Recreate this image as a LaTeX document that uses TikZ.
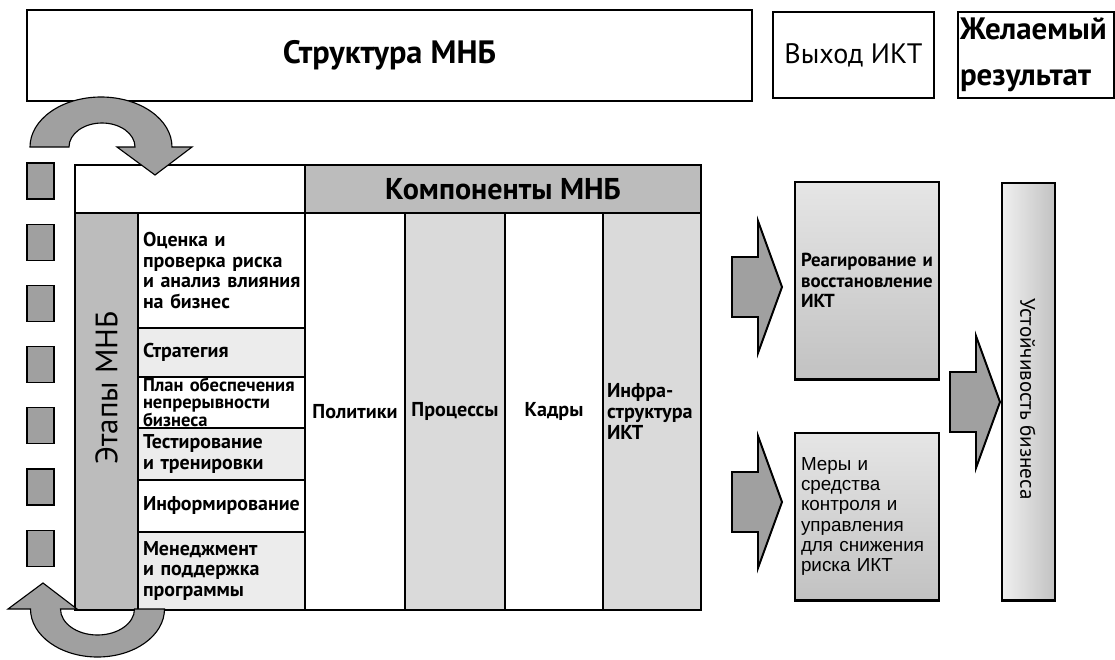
\documentclass[tikz,border=0pt]{standalone}
\usepackage{fontspec}
\setmainfont{PT Sans}
\newfontfamily\arialf{Liberation Sans}

\definecolor{hdrgray}{HTML}{BCBCBC}
\definecolor{colgray}{HTML}{DADADA}
\definecolor{rowgray}{HTML}{ECECEC}
\definecolor{arrgray}{HTML}{A0A0A0}

\tikzset{
	pics/blkarr/.style = {code={%
		\draw[blk] (0,0) -- (-0.6,1.65) -- (-0.6,0.75) -- (-1.25,0.75)
			-- (-1.25,-0.75) -- (-0.6,-0.75) -- (-0.6,-1.65) -- cycle;}}
}

\begin{document}
\begin{tikzpicture}[
		cell/.style args = {#1/#2}{%
			draw, thick, minimum width=#1cm, minimum height=#2cm, inner sep=0pt},
		stg/.style = {draw, thick, text width=3.925cm, inner xsep=1.25mm,
			inner ysep=0pt, align=left, font=\bfseries\fontsize{14.2}{14.6}\selectfont},
		rbox/.style args = {#1/#2}{%
			draw, thick, minimum width=#1cm, minimum height=#2cm,
			text width=3.3cm, inner xsep=0.15cm, align=left,
			top color=black!10, bottom color=black!24},
		sqr/.style = {draw, thick, fill=arrgray, minimum width=0.675cm,
			minimum height=0.9cm, inner sep=0pt},
		blk/.style = {draw=black, line width=1.4pt, fill=arrgray, line join=miter},
		ringarr/.style = {draw=black, thick, fill=arrgray},
		colfont/.style = {font=\bfseries\fontsize{14.3}{15}\selectfont}
                    ]
		\useasboundingbox (0,0) rectangle (27.875,-16.475);

		% top row
		\node(mnb) [cell=18.125/2.275, font=\bfseries\fontsize{23}{26}\selectfont] at (9.7375,-1.3875) {Структура МНБ};
		\node(ikt) [cell=4.025/2.15, font=\fontsize{20}{24}\selectfont] at (21.3375,-1.375) {Выход ИКТ};
		\node(res) [cell=3.9/2.15, text width=3.8cm, inner xsep=0.5mm, align=left,
			font=\bfseries\fontsize{22}{33}\selectfont] at (25.9,-1.375) {Желаемый\\результат};

		% table head
		\node(blank) [cell=5.75/1.2] at (4.75,-4.725) {};
		\node(komp) [cell=9.9/1.2, fill=hdrgray, font=\bfseries\fontsize{21.4}{24}\selectfont] at (12.575,-4.725) {Компоненты МНБ};
		\node(etap) [cell=1.575/9.925, fill=hdrgray] at (2.6625,-10.2875) {};
		\node(etaptxt) [rotate=90, font=\fontsize{22}{24}\selectfont] at (2.6625,-9.7) {Этапы МНБ};

		% stages
		\node(s1) [stg, minimum height=2.875cm] at (5.5375,-6.7625) {Оценка~и\\проверка~риска\\и~анализ~влияния\\на~бизнес};
		\node(s2) [stg, fill=rowgray, minimum height=1.225cm] at (5.5375,-8.8125) {Стратегия};
		\node(s3) [stg, minimum height=1.275cm, font=\bfseries\fontsize{13.2}{11.8}\selectfont] at (5.5375,-10.0625) {План~обеспечения\\непрерывности\\бизнеса};
		\node(s4) [stg, fill=rowgray, minimum height=1.3cm] at (5.5375,-11.35) {Тестирование\\и~тренировки};
		\node(s5) [stg, minimum height=1.3cm] at (5.5375,-12.65) {Информирование};
		\node(s6) [stg, fill=rowgray, minimum height=1.95cm] at (5.5375,-14.275) {Менеджмент\\и~поддержка\\программы};

		% components
		\node(pol) [cell=2.5/9.925, colfont] at (8.875,-10.2875) {Политики};
		\node(proc) [cell=2.5/9.925, fill=colgray, colfont] at (11.375,-10.2875) {Процессы};
		\node(kadr) [cell=2.45/9.925, colfont] at (13.85,-10.2875) {Кадры};
		\node(infra) [cell=2.45/9.925, fill=colgray, colfont, text width=2.25cm, align=left] at (16.3,-10.2875) {Инфра-\\структура\\ИКТ};

		% cycle marks
		\foreach \i in {0,...,6}
			\node(sq\i) [sqr] at (1.0125,-4.525-1.53*\i) {};

		\draw[ringarr] (0.75,-3.675) arc[start angle=180, end angle=0, x radius=1.775, y radius=1.25]
			-- (4.8,-3.675) -- (3.875,-4.375) -- (2.925,-3.675) -- (3.375,-3.675)
			arc[start angle=0, end angle=180, x radius=0.825, y radius=0.6] -- cycle;
		\draw[ringarr] (4.1125,-15.225) arc[start angle=0, end angle=-180, x radius=1.675, y radius=1.2]
			-- (0.2,-15.225) -- (1.075,-14.575) -- (1.925,-15.225) -- (1.5125,-15.225)
			arc[start angle=180, end angle=360, x radius=0.925, y radius=0.65] -- cycle;

		% outputs
		\node(rea) [rbox=3.6/4.925, font=\bfseries\fontsize{13.4}{14.5}\selectfont] at (21.675,-7.0125) {Реагирование~и\\восстановление\\ИКТ};
		\node(mery) [rbox=3.6/4.175, font=\arialf\fontsize{13.4}{14.4}\selectfont] at (21.675,-12.9125) {Меры и\\средства\\контроля и\\управления\\для снижения\\риска ИКТ};
		\node(ust) [cell=1.325/10.425, left color=black!6, right color=black!24] at (25.7125,-9.7875) {};
		\node(usttxt) [rotate=-90, font=\fontsize{15}{17}\selectfont] at (25.7,-9.975) {Устойчивость бизнеса};
		\draw[line width=2pt] (rea.south west) -- (rea.south east);
		\draw[line width=2pt] (mery.south west) -- (mery.south east);
		\draw[line width=2pt] (ust.south west) -- (ust.south east);

		\pic at (19.55,-7.175) {blkarr};
		\pic at (19.55,-12.55) {blkarr};
		\pic at (25.0,-10.05) {blkarr};
	\end{tikzpicture}
\end{document}
